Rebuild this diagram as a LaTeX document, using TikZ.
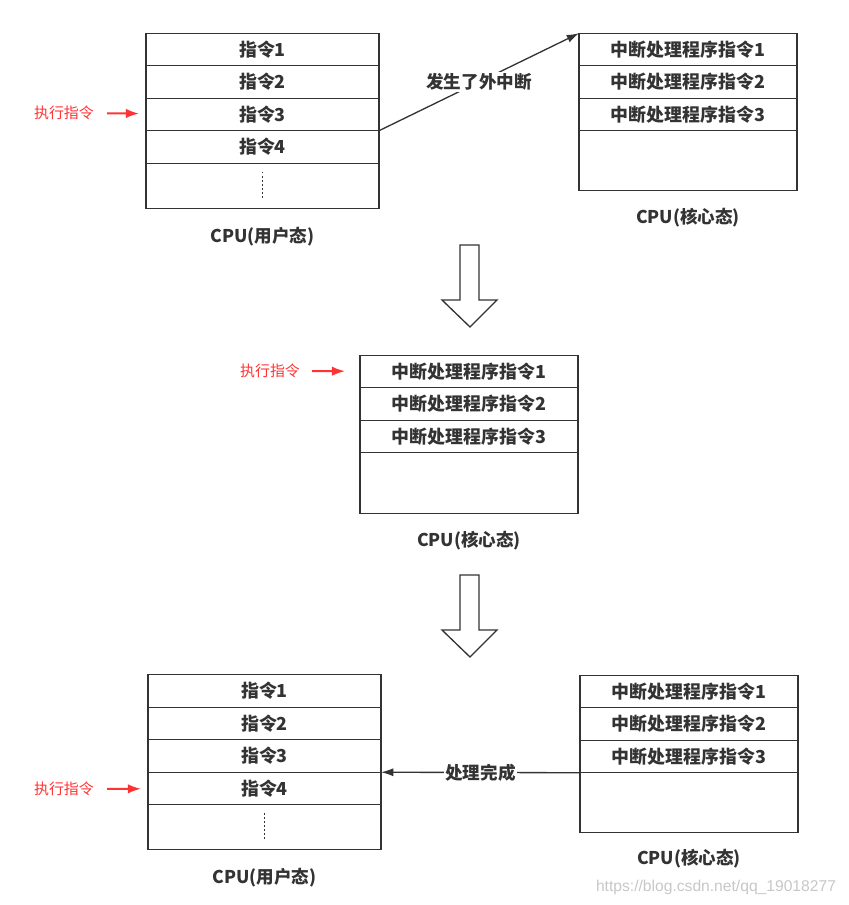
\documentclass[tikz,border=0pt]{standalone}
\usepackage{fontspec}
\setmainfont{Noto Sans CJK SC}
\newfontfamily\wmfont{Liberation Sans}
\usetikzlibrary{positioning, arrows.meta}
\definecolor{ink}{HTML}{333333}
\definecolor{runred}{HTML}{FF3333}
\tikzset{>={Latex[length = 7pt, width = 4.6pt]}}
\tikzset{
	cell/.style = {draw = ink, line width = 0.75pt, minimum height = 0.65cm, inner sep = 0pt, outer sep = 0pt, text = ink, font = \fontsize{10.2}{12}\selectfont\bfseries},
	wide/.style = {cell, minimum width = 4.66cm},
	narrow/.style = {cell, minimum width = 4.36cm},
	cpu/.style = {inner sep = 0pt, text = ink, font = \fontsize{10}{12}\selectfont\bfseries},
	run/.style = {inner sep = 0pt, text = runred, font = \fontsize{8.5}{10}\selectfont},
	runarrow/.style = {-{Latex[length = 7.5pt, width = 5.4pt]}, draw = runred, line width = 1.1pt},
	link/.style = {->, draw = ink, line width = 0.75pt},
	tag/.style = {fill = white, inner sep = 1pt, text = ink, font = \fontsize{10}{12}\selectfont\bfseries},
	dots/.style = {ink, line width = 1pt, dash pattern = on 1pt off 1.3pt}
}

\begin{document}
\begin{tikzpicture}[x = 0.02cm, y = -0.02cm]
	\useasboundingbox (0,0) rectangle (848,905);
	% user mode, before
	\node[wide] (ua1) at (262.5,49.5) {指令1};
	\node[wide, below = 0pt of ua1] (ua2) {指令2};
	\node[wide, below = 0pt of ua2] (ua3) {指令3};
	\node[wide, below = 0pt of ua3] (ua4) {指令4};
	\node[wide, below = 0pt of ua4, minimum height = 0.9cm] (ua5) {};
	\draw[dots] ([yshift = 0.28cm]ua5.center) -- ([yshift = -0.28cm]ua5.center);
	\node[cpu, below = 0.56cm of ua5, anchor = center] (ucpu) {CPU(用户态)};
	\node[run] (run1) at (64,113) {执行指令};
	\draw[runarrow, shorten < = 0.26cm, shorten > = 0.14cm] (run1) -- (ua3);
	% kernel mode, waiting
	\node[narrow] (ka1) at (688,49.5) {中断处理程序指令1};
	\node[narrow, below = 0pt of ka1] (ka2) {中断处理程序指令2};
	\node[narrow, below = 0pt of ka2] (ka3) {中断处理程序指令3};
	\node[narrow, below = 0pt of ka3, minimum height = 1.2cm] (ka4) {};
	\node[cpu, below = 0.54cm of ka4, anchor = center] (kacpu) {CPU(核心态)};
	\draw[link] (ua3.south east) -- node[tag] {发生了外中断} (ka1.north west);
	% big arrows
	\foreach \dy in {0,330}
	\draw[ink, line width = 0.75pt, fill = white] (460,245+\dy) -- (479,245+\dy) -- (479,300+\dy) -- (497,300+\dy) -- (470,327+\dy) -- (442,300+\dy) -- (460,300+\dy) -- cycle;
	% kernel mode, running
	\node[narrow] (km1) at (469,371.5) {中断处理程序指令1};
	\node[narrow, below = 0pt of km1] (km2) {中断处理程序指令2};
	\node[narrow, below = 0pt of km2] (km3) {中断处理程序指令3};
	\node[narrow, below = 0pt of km3, minimum height = 1.22cm] (km4) {};
	\node[cpu, below = 0.54cm of km4, anchor = center] (kmcpu) {CPU(核心态)};
	\node[run] (run2) at (270,371) {执行指令};
	\draw[runarrow, shorten < = 0.24cm, shorten > = 0.3cm] (run2) -- (km1);
	% user mode, after
	\node[wide] (ub1) at (264.5,691) {指令1};
	\node[wide, below = 0pt of ub1] (ub2) {指令2};
	\node[wide, below = 0pt of ub2] (ub3) {指令3};
	\node[wide, below = 0pt of ub3] (ub4) {指令4};
	\node[wide, below = 0pt of ub4, minimum height = 0.9cm] (ub5) {};
	\draw[dots] ([yshift = 0.28cm]ub5.center) -- ([yshift = -0.28cm]ub5.center);
	\node[cpu, below = 0.56cm of ub5, anchor = center] (ubcpu) {CPU(用户态)};
	\node[run] (run3) at (64,789) {执行指令};
	\draw[runarrow, shorten < = 0.26cm, shorten > = 0.14cm] (run3) -- (ub4);
	% kernel mode, done
	\node[narrow] (kb1) at (689,691.5) {中断处理程序指令1};
	\node[narrow, below = 0pt of kb1] (kb2) {中断处理程序指令2};
	\node[narrow, below = 0pt of kb2] (kb3) {中断处理程序指令3};
	\node[narrow, below = 0pt of kb3, minimum height = 1.2cm] (kb4) {};
	\node[cpu, below = 0.52cm of kb4, anchor = center] (kbcpu) {CPU(核心态)};
	\draw[link] (kb3.south west) -- node[tag] {处理完成} (ub3.south east);
	\node[text = black!22, font = \wmfont\fontsize{8.9}{10}\selectfont] (mark) at (716,887) {https://blog.csdn.net/qq\_19018277};
\end{tikzpicture}
\end{document}
